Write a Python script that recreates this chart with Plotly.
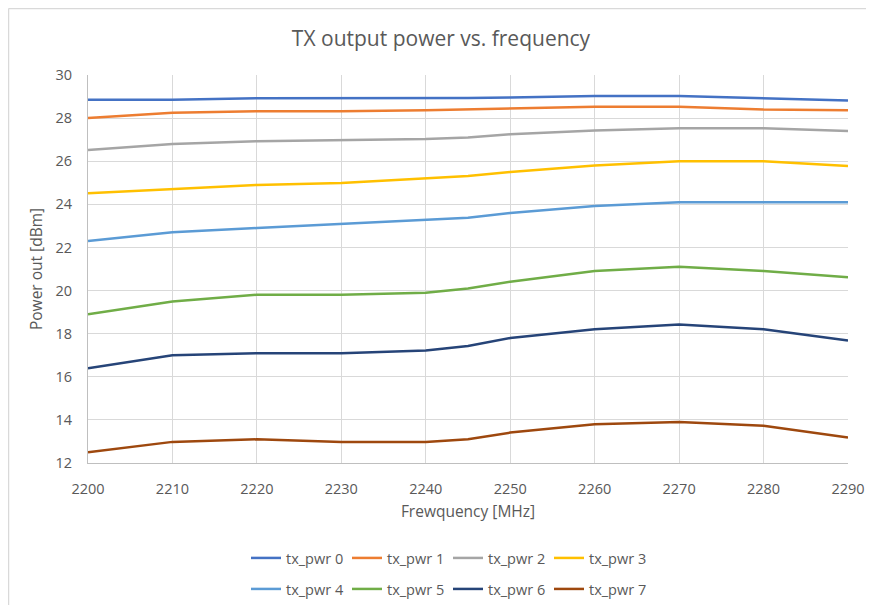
import plotly.graph_objects as go

# frequency points (MHz)
freq = [2200, 2210, 2220, 2230, 2240, 2245, 2250, 2260, 2270, 2280, 2290]

# output power per tx_pwr setting (dBm)
tx_pwr_0 = [28.85, 28.85, 28.92, 28.92, 28.92, 28.93, 28.96, 29.02, 29.02, 28.93, 28.82]
tx_pwr_1 = [28.0, 28.25, 28.32, 28.32, 28.36, 28.4, 28.44, 28.53, 28.53, 28.4, 28.36]
tx_pwr_2 = [26.52, 26.8, 26.93, 26.99, 27.03, 27.1, 27.25, 27.42, 27.53, 27.53, 27.4]
tx_pwr_3 = [24.51, 24.71, 24.9, 24.99, 25.2, 25.32, 25.5, 25.8, 26.0, 26.0, 25.78]
tx_pwr_4 = [22.3, 22.7, 22.9, 23.1, 23.3, 23.38, 23.6, 23.92, 24.1, 24.1, 24.1]
tx_pwr_5 = [18.9, 19.49, 19.81, 19.81, 19.9, 20.1, 20.41, 20.91, 21.11, 20.91, 20.62]
tx_pwr_6 = [16.4, 17.0, 17.09, 17.09, 17.22, 17.43, 17.8, 18.2, 18.42, 18.2, 17.68]
tx_pwr_7 = [12.5, 12.98, 13.1, 12.98, 12.98, 13.1, 13.41, 13.8, 13.9, 13.73, 13.18]

series = [tx_pwr_0, tx_pwr_1, tx_pwr_2, tx_pwr_3, tx_pwr_4, tx_pwr_5, tx_pwr_6, tx_pwr_7]
names = ['tx_pwr 0', 'tx_pwr 1', 'tx_pwr 2', 'tx_pwr 3',
         'tx_pwr 4', 'tx_pwr 5', 'tx_pwr 6', 'tx_pwr 7']
colors = ['#4472C4', '#ED7D31', '#A5A5A5', '#FFC000',
          '#5B9BD5', '#70AD47', '#264478', '#9E480E']

FONT = 'Open Sans'
GREY = '#595959'

# the page body adds an 8px offset, so the figure is drawn 8px smaller
W, H = 866, 597
ML, MR, MT, MB = 80, 26, 67, 142
PW, PH = W - ML - MR, H - MT - MB

fig = go.Figure()

for i, (name, y) in enumerate(zip(names, series)):
    fig.add_trace(go.Scatter(
        x=freq, y=y, name=name, mode='lines',
        line=dict(color=colors[i], width=2.5),
        legend='legend' if i < 4 else 'legend2',
    ))

legend_style = dict(
    orientation='h', xanchor='center', x=0.5 - 20 / PW, yanchor='middle', yref='container',
    entrywidth=56, entrywidthmode='pixels',
    font=dict(family=FONT, size=14.5, color=GREY),
    itemwidth=30, tracegroupgap=0, bgcolor='rgba(0,0,0,0)',
)

fig.update_layout(
    width=W, height=H,
    margin=dict(l=ML, r=MR, t=MT, b=MB, autoexpand=False),
    paper_bgcolor='white', plot_bgcolor='white',
    title=dict(text='TX output power vs. frequency', x=0.5, xanchor='center',
               y=1 - 31 / H, yanchor='middle',
               font=dict(family=FONT, size=21, color=GREY)),
    xaxis=dict(
        range=[2200, 2290], dtick=10, tick0=2200,
        showgrid=True, gridcolor='#d9d9d9', gridwidth=1,
        showline=True, linecolor='#bfbfbf', linewidth=1,
        zeroline=False, ticks='', ticklabelstandoff=13,
        tickfont=dict(family=FONT, size=14.5, color=GREY),
        title=dict(text='Frewquency [MHz]', standoff=8,
                   font=dict(family=FONT, size=15.5, color=GREY)),
    ),
    yaxis=dict(
        range=[12, 30], dtick=2,
        showgrid=True, gridcolor='#d9d9d9', gridwidth=1,
        showline=True, linecolor='#bfbfbf', linewidth=1,
        zeroline=False, ticks='', ticklabelstandoff=12,
        tickfont=dict(family=FONT, size=14.5, color=GREY),
        title=dict(text='Power out [dBm]', standoff=9,
                   font=dict(family=FONT, size=15.5, color=GREY)),
    ),
    legend=dict(y=1 - 550 / H, **legend_style),
    legend2=dict(y=1 - 581 / H, **legend_style),
)

# chart frame (left and top edges visible in the reference)
fx0 = -ML / PW + 0.5 / PW
fy1 = 1 + MT / PH - 0.5 / PH
fig.add_shape(type='line', xref='paper', yref='paper',
              x0=fx0, x1=1 + MR / PW, y0=fy1, y1=fy1,
              line=dict(color='#d9d9d9', width=1.5))
fig.add_shape(type='line', xref='paper', yref='paper',
              x0=fx0, x1=fx0, y0=fy1, y1=-MB / PH,
              line=dict(color='#d9d9d9', width=1.5))

fig.write_html('out.html')
